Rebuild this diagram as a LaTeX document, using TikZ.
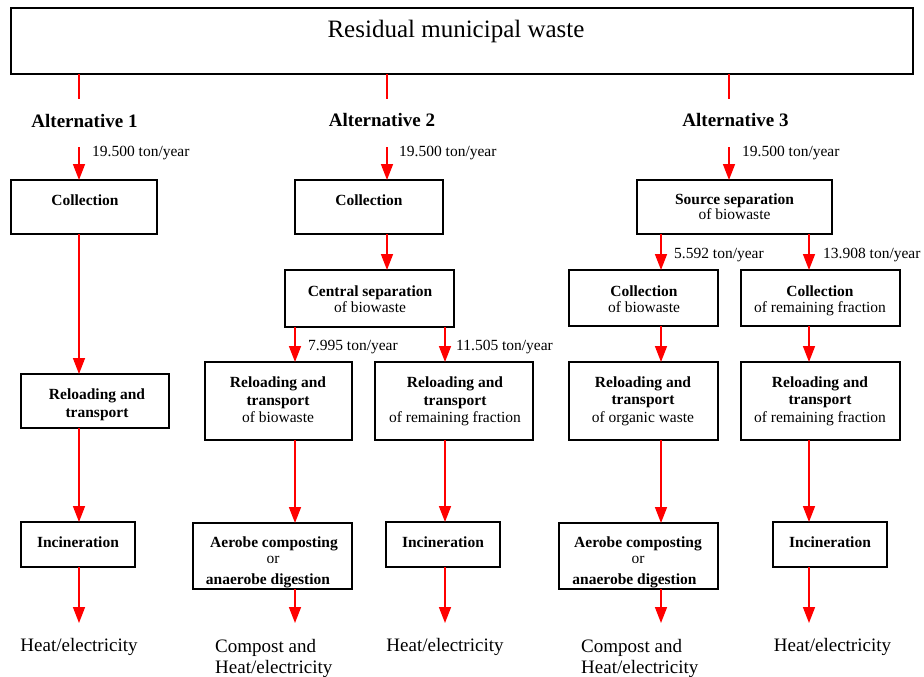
\documentclass[tikz,border=0pt]{standalone}
\usepackage{fontspec}
\setmainfont{Liberation Serif}
\usetikzlibrary{arrows.meta}

\begin{document}
\begin{tikzpicture}[x=1pt,y=-1pt,
  box/.style={draw=black, line width=1.5pt, inner sep=0pt, outer sep=0pt},
  flow/.style={draw=red, line width=1.6pt, -{Triangle[length=16pt,width=12pt]}},
  feed/.style={draw=red, line width=1.2pt},
  bt/.style={anchor=base, inner sep=0pt, font=\fontsize{15.5}{18}\selectfont\bfseries},
  rt/.style={anchor=base, inner sep=0pt, font=\fontsize{15.5}{18}\selectfont},
  qty/.style={anchor=base west, inner sep=0pt, font=\fontsize{15.5}{18}\selectfont},
  alt/.style={anchor=base, inner sep=0pt, font=\fontsize{19}{22}\selectfont\bfseries},
  res/.style={inner sep=0pt, font=\fontsize{19}{22}\selectfont},
]
\useasboundingbox (0,0) rectangle (924,677);

% ---------- source ----------
\node[box, minimum width=902pt, minimum height=66pt] (top) at (462,41) {};
\node[anchor=base, inner sep=0pt, font=\fontsize{25}{28}\selectfont] (toptxt) at (456,38) {Residual municipal waste};

\coordinate (t1) at (79,99);
\coordinate (t2) at (387,99);
\coordinate (t3) at (729,99);
\draw[feed] (top.south -| t1) -- (t1);
\draw[feed] (top.south -| t2) -- (t2);
\draw[feed] (top.south -| t3) -- (t3);

\node[alt] (alt1) at (84.5,127) {Alternative 1};
\node[alt] (alt2) at (382,126) {Alternative 2};
\node[alt] (alt3) at (735.5,126) {Alternative 3};

\coordinate (s1) at (79,147);
\coordinate (s2) at (387,147);
\coordinate (s3) at (729,147);
\node[qty] (q1) at (92,156) {19.500 ton/year};
\node[qty] (q2) at (399,156) {19.500 ton/year};
\node[qty] (q3) at (742,156) {19.500 ton/year};

% ---------- alternative 1 ----------
\node[box, minimum width=146pt, minimum height=54pt] (a1col) at (84,207) {};
\node[bt] (a1colt) at (85,205) {Collection};

\node[box, minimum width=148pt, minimum height=54pt] (a1rel) at (95,401) {};
\node[bt] (a1relt1) at (97,399) {Reloading and};
\node[bt] (a1relt2) at (97,417) {transport};

\node[box, minimum width=114pt, minimum height=45pt] (a1inc) at (78,544.5) {};
\node[bt] (a1inct) at (78,547) {Incineration};

\coordinate (e1) at (79,623);
\node[res, anchor=base] (r1) at (79,651) {Heat/electricity};

\draw[flow] (s1) -- (a1col.north -| s1);
\draw[flow] (a1col.south -| s1) -- (a1rel.north -| s1);
\draw[flow] (a1rel.south -| s1) -- (a1inc.north -| s1);
\draw[flow] (a1inc.south -| s1) -- (e1);

% ---------- alternative 2 ----------
\node[box, minimum width=148pt, minimum height=54pt] (a2col) at (369,207) {};
\node[bt] (a2colt) at (369,205) {Collection};

\node[box, minimum width=169pt, minimum height=57pt] (a2sep) at (369.5,298.5) {};
\node[bt] (a2sept1) at (370,296) {Central separation};
\node[rt] (a2sept2) at (370,312) {of biowaste};

\coordinate (b2) at (295,0);
\coordinate (c2) at (445,0);
\node[qty] (q21) at (308,350) {7.995 ton/year};
\node[qty] (q22) at (456,350) {11.505 ton/year};

\node[box, minimum width=147pt, minimum height=78pt] (a2relb) at (278.5,401) {};
\node[bt] (a2relbt1) at (278,387) {Reloading and};
\node[bt] (a2relbt2) at (278,405) {transport};
\node[rt] (a2relbt3) at (278,422) {of biowaste};

\node[box, minimum width=158pt, minimum height=78pt] (a2relr) at (454,401) {};
\node[bt] (a2relrt1) at (455,387) {Reloading and};
\node[bt] (a2relrt2) at (455,405) {transport};
\node[rt] (a2relrt3) at (455,422) {of remaining fraction};

\node[box, minimum width=159pt, minimum height=66pt] (a2comp) at (272.5,556) {};
\node[bt] (a2compt1) at (274,547) {Aerobe composting};
\node[rt] (a2compt2) at (273,563) {or};
\node[bt] (a2compt3) at (268,584) {anaerobe digestion};

\node[box, minimum width=114pt, minimum height=45pt] (a2inc) at (443,544.5) {};
\node[bt] (a2inct) at (443,547) {Incineration};

\coordinate (e2b) at (295,623);
\coordinate (e2c) at (445,623);
\node[res, anchor=base west] (r2a) at (215,652) {Compost and};
\node[res, anchor=base west] (r2b) at (215,673) {Heat/electricity};
\node[res, anchor=base] (r2c) at (445,651) {Heat/electricity};

\draw[flow] (s2) -- (a2col.north -| s2);
\draw[flow] (a2col.south -| s2) -- (a2sep.north -| s2);
\draw[flow] (a2sep.south -| b2) -- (a2relb.north -| b2);
\draw[flow] (a2sep.south -| c2) -- (a2relr.north -| c2);
\draw[flow] (a2relb.south -| b2) -- (a2comp.north -| b2);
\draw[flow] (a2relr.south -| c2) -- (a2inc.north -| c2);
\draw[flow] (a2comp.south -| b2) -- (e2b);
\draw[flow] (a2inc.south -| c2) -- (e2c);

% ---------- alternative 3 ----------
\node[box, minimum width=195pt, minimum height=54pt] (a3src) at (734.5,207) {};
\node[bt] (a3srct1) at (734.5,204) {Source separation};
\node[rt] (a3srct2) at (734.5,219) {of biowaste};

\coordinate (b3) at (661,0);
\coordinate (c3) at (809,0);
\node[qty] (q31) at (674,258) {5.592 ton/year};
\node[qty] (q32) at (823,258) {13.908 ton/year};

\node[box, minimum width=149pt, minimum height=56pt] (a3colb) at (643.5,298) {};
\node[bt] (a3colbt1) at (644,296) {Collection};
\node[rt] (a3colbt2) at (644,312) {of biowaste};

\node[box, minimum width=159pt, minimum height=56pt] (a3colr) at (820.5,298) {};
\node[bt] (a3colrt1) at (820,296) {Collection};
\node[rt] (a3colrt2) at (820,312) {of remaining fraction};

\node[box, minimum width=149pt, minimum height=78pt] (a3relb) at (643.5,401) {};
\node[bt] (a3relbt1) at (643,387) {Reloading and};
\node[bt] (a3relbt2) at (643,404) {transport};
\node[rt] (a3relbt3) at (643,422) {of organic waste};

\node[box, minimum width=159pt, minimum height=78pt] (a3relr) at (820.5,401) {};
\node[bt] (a3relrt1) at (820,387) {Reloading and};
\node[bt] (a3relrt2) at (820,404) {transport};
\node[rt] (a3relrt3) at (820,422) {of remaining fraction};

\node[box, minimum width=159pt, minimum height=66pt] (a3comp) at (638.5,556) {};
\node[bt] (a3compt1) at (638,547) {Aerobe composting};
\node[rt] (a3compt2) at (638,563) {or};
\node[bt] (a3compt3) at (634.5,584) {anaerobe digestion};

\node[box, minimum width=114pt, minimum height=45pt] (a3inc) at (830,544.5) {};
\node[bt] (a3inct) at (830,547) {Incineration};

\coordinate (e3b) at (661,623);
\coordinate (e3c) at (809,623);
\node[res, anchor=base west] (r3a) at (581,652) {Compost and};
\node[res, anchor=base west] (r3b) at (581,673) {Heat/electricity};
\node[res, anchor=base] (r3c) at (832.5,651) {Heat/electricity};

\draw[flow] (s3) -- (a3src.north -| s3);
\draw[flow] (a3src.south -| b3) -- (a3colb.north -| b3);
\draw[flow] (a3src.south -| c3) -- (a3colr.north -| c3);
\draw[flow] (a3colb.south -| b3) -- (a3relb.north -| b3);
\draw[flow] (a3colr.south -| c3) -- (a3relr.north -| c3);
\draw[flow] (a3relb.south -| b3) -- (a3comp.north -| b3);
\draw[flow] (a3relr.south -| c3) -- (a3inc.north -| c3);
\draw[flow] (a3comp.south -| b3) -- (e3b);
\draw[flow] (a3inc.south -| c3) -- (e3c);
\end{tikzpicture}
\end{document}
